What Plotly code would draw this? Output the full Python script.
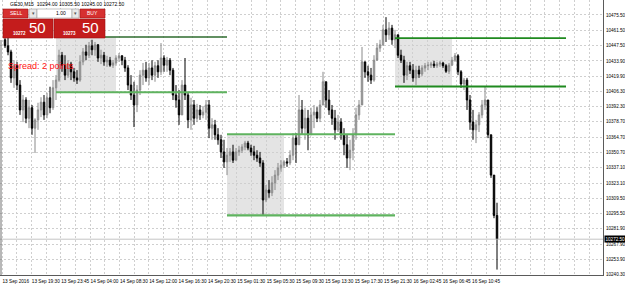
import plotly.graph_objects as go

# ---------------- data (prices) ----------------
first_open = 10453.0
highs = [10454.5,10456.5,10444,10434.5,10433,10416.5,10403,10401,10398.5,10394,
         10382,10396,10401,10403,10405,10410.5,10416.5,10421,10444,10442,
         10439,10434.5,10433,10427.5,10425.5,10439,10445.5,10448.5,10451,10453,
         10451,10449,10444,10442,10438.5,10437.5,10434.5,10439,10441,10439,
         10437.5,10430,10421,10415,10412,10425.5,10432,10433,10432,10434.5,
         10433,10434.5,10450,10439,10437.5,10436.5,10427.5,10412,10407.5,10416.5,
         10436.5,10405.5,10400.5,10398.5,10395,10394,10393,10398.5,10398.5,10382,
         10380.5,10373,10367,10362.5,10355,10355,10358,10355,10357,10358.5,
         10361.5,10361.5,10358,10357,10353,10351.5,10344,10321.5,10326,10329.5,
         10335,10341.5,10344,10344,10346,10353,10368.5,10368.5,10403,10398.5,
         10391.5,10389.5,10391.5,10394,10392,10398.5,10424,10415,10407.5,10394,
         10389.5,10385,10382,10373,10367,10362.5,10373,10391.5,10398.5,10446.5,
         10433,10429.5,10427.5,10439,10450,10453,10466.5,10473.5,10469,10466.5,
         10462,10457.5,10444,10438.5,10433,10433,10431,10429.5,10429.5,10430,
         10432,10433,10433,10434,10433,10434,10433,10431,10432,10437.5,
         10441,10440,10425.5,10418.5,10418.5,10403,10389.5,10380.5,10387.5,10398.5,
         10410.5,10398.5,10367,10330.5,10305.5]
lows = [10445.5,10439,10414,10409.5,10407.5,10385,10378.5,10377.5,10373,10367,
        10350.5,10371.5,10383,10380.5,10382,10386.5,10389.5,10398.5,10415,10424,
        10416.5,10418.5,10416.5,10415,10413,10415,10430,10434.5,10436.5,10439,
        10438.5,10433,10431,10429.5,10428.5,10428.5,10427.5,10429.5,10433,10430,
        10424,10407.5,10398.5,10374,10387.5,10403,10412,10415,10412,10416.5,
        10415,10418.5,10421,10424,10424,10421,10398.5,10391.5,10376,10389.5,
        10398.5,10373,10371.5,10376,10378.5,10380.5,10382,10380.5,10364,10362.5,
        10362.5,10358,10346,10337,10330.5,10342.5,10341.5,10346,10348,10350.5,
        10353,10353,10348,10344,10342.5,10338,10294.5,10306,10310,10311.5,
        10317,10326,10333.5,10337,10338,10339.5,10344,10341.5,10358,10367,
        10362.5,10353,10367,10373,10378.5,10378.5,10394,10391.5,10385,10376,
        10362.5,10369.5,10362.5,10348.5,10337,10335,10344,10362.5,10380.5,10398.5,
        10418.5,10415,10413,10415,10436.5,10442,10447.5,10451,10453,10448.5,
        10445.5,10436.5,10432,10414,10416.5,10422,10415,10412,10418.5,10420,
        10424,10425.5,10427.5,10427.5,10427.5,10428.5,10427.5,10423,10422,10429.5,
        10433,10421,10409.5,10407.5,10389.5,10371.5,10362.5,10359.5,10369.5,10382,
        10389.5,10364,10328,10291.5,10245]
closes = [10447.5,10442,10418.5,10429.5,10412,10389.5,10398.5,10382,10391.5,10373,
          10380.5,10389.5,10396.5,10385,10400.5,10391.5,10409.5,10416.5,10439,10430,
          10421,10431,10424,10418.5,10416.5,10433,10442,10439,10447.5,10444,
          10448.5,10436.5,10439,10433,10434.5,10430,10432,10436.5,10438.5,10434.5,
          10427.5,10412,10403,10394,10407.5,10421,10425.5,10418.5,10427.5,10421,
          10429.5,10424,10436.5,10430,10434.5,10425.5,10403,10398.5,10385,10412,
          10403,10380.5,10394,10382,10389.5,10385,10387.5,10394,10373,10376,
          10367,10362.5,10351.5,10342.5,10348.5,10351.5,10344,10351.5,10353,10356,
          10359.5,10355,10351.5,10348.5,10346,10341.5,10308,10317,10314.5,10323.5,
          10330.5,10337,10339.5,10342.5,10341.5,10348.5,10364,10358,10389.5,10373,
          10382,10367,10385,10387.5,10382,10394,10415,10398.5,10389.5,10382,
          10371.5,10378.5,10367,10358,10346,10353,10367,10385,10394,10433,
          10424,10421,10416.5,10434.5,10445.5,10448.5,10462,10457.5,10463.5,10453,
          10457.5,10439,10434.5,10421,10429.5,10425.5,10418.5,10425.5,10422,10427.5,
          10429.5,10430,10431,10429.5,10431,10432,10429.5,10424.5,10430,10434.5,
          10438.5,10424,10413,10416.5,10398.5,10378.5,10371.5,10376,10385,10394,
          10398.5,10367,10330.5,10294,10272.5]
opens = [first_open] + closes[:-1]

x_labels = ["13 Sep 2016", "13 Sep 19:30", "13 Sep 23:45", "14 Sep 04:00", "14 Sep 08:30",
            "14 Sep 12:00", "14 Sep 16:30", "14 Sep 20:30", "15 Sep 01:30", "15 Sep 05:30",
            "15 Sep 09:30", "15 Sep 13:30", "15 Sep 17:30", "15 Sep 21:30", "16 Sep 02:45",
            "16 Sep 06:45", "16 Sep 10:45"]
y_ticks = [10475.5, 10461.5, 10447.5, 10433.9, 10419.9, 10406.3, 10392.3, 10378.7, 10364.7,
           10350.7, 10337.1, 10323.1, 10309.5, 10295.5, 10281.9, 10267.9, 10253.9, 10240.3]

# zones: start bar, box end bar, line end bar, top price, bottom price
zone_start = [17, 74, 130]
zone_box_end = [37, 93, 149]
zone_line_end = [74, 130, 187]
zone_top = [10455.5, 10367.5, 10454.5]
zone_bottom = [10405.5, 10294.0, 10410.7]

symbol_title = "GE30,M15  10294.00 10305.50 10245.00 10272.50"
bid_big, bid_small = "50", "10272"
ask_big, ask_small = "50", "10273"
spread_text = "Spread: 2 points"
last_price = 10272.5

# ---------------- figure ----------------
W, H = 625, 286
ML, MR, MT, MB = 0, 22, 0, 11
PW, PH = W - ML - MR, H - MT - MB

n = len(closes)
xs = list(range(n))
BAR_PX = 3.0
X0_PX = 5.0
def bar_of_px(p):
    return (p - X0_PX) / BAR_PX

fig = go.Figure()
fig.add_trace(go.Candlestick(
    x=xs, open=opens, high=highs, low=lows, close=closes,
    increasing=dict(line=dict(color="#8a8a8a", width=1), fillcolor="#b5b5b5"),
    decreasing=dict(line=dict(color="#000000", width=1), fillcolor="#000000"),
    whiskerwidth=0, showlegend=False, hoverinfo="skip"))

# x grid every half label step; labels on every other line
label_step_px = 29.35
grid_vals, grid_text = [], []
j = 0
while 2 + j * label_step_px / 2 <= PW:
    grid_vals.append(bar_of_px(2 + j * label_step_px / 2))
    k = j // 2
    grid_text.append(x_labels[k] if (j % 2 == 0 and k < len(x_labels)) else "")
    j += 1

y_lo = 10240.1
y_hi = 10489.0

shapes = []
line_cols = [("#2e6b2e", 1.3, "#5fb35f", 2.2), ("#5fb35f", 2.2, "#5fb35f", 2.2), ("#1f8a1f", 1.8, "#1f8a1f", 1.8)]
for i in range(len(zone_start)):
    shapes.append(dict(type="rect", xref="x", yref="y", x0=zone_start[i], x1=zone_box_end[i],
                       y0=zone_bottom[i], y1=zone_top[i], fillcolor="#e4e4e4",
                       line=dict(width=0), layer="below"))
    ct, wt, cb, wb = line_cols[i]
    shapes.append(dict(type="line", xref="x", yref="y", x0=zone_start[i], x1=zone_line_end[i],
                       y0=zone_top[i], y1=zone_top[i], line=dict(color=ct, width=wt), layer="above"))
    shapes.append(dict(type="line", xref="x", yref="y", x0=zone_start[i], x1=zone_line_end[i],
                       y0=zone_bottom[i], y1=zone_bottom[i], line=dict(color=cb, width=wb), layer="above"))
# current price line
shapes.append(dict(type="line", xref="paper", yref="y", x0=0, x1=1, y0=last_price, y1=last_price,
                   line=dict(color="#c4c4c4", width=1), layer="above"))

def px(x):
    return x / PW
def py(y):
    return 1 - y / PH

# left border line
shapes.append(dict(type="line", xref="paper", yref="paper", x0=px(1), x1=px(1), y0=0, y1=py(40),
                   line=dict(color="#707070", width=1)))

# one-click trading panel
def rect(x0, y0, x1, y1, fill, line="#a01010", lw=0.6):
    shapes.append(dict(type="rect", xref="paper", yref="paper", x0=px(x0), x1=px(x1),
                       y0=py(y1), y1=py(y0), fillcolor=fill, line=dict(color=line, width=lw),
                       layer="above"))
rect(3, 9, 28, 18, "#d63030")
rect(29, 9, 37, 18, "#e8e8e8", "#9a9a9a")
rect(37, 9, 72, 18, "#ffffff", "#9a9a9a")
rect(72, 9, 79, 18, "#e8e8e8", "#9a9a9a")
rect(80, 9, 105, 18, "#d63030")
rect(3, 19, 53, 38, "#c41c1c")
rect(54, 19, 105, 38, "#c41c1c")

annotations = []
def txt(x, y, s, size, color="#000000", anchor="left", bold=False, family="Liberation Sans"):
    annotations.append(dict(xref="paper", yref="paper", x=px(x), y=py(y), text=("<b>%s</b>" % s) if bold else s,
                            showarrow=False, xanchor=anchor, yanchor="middle",
                            font=dict(size=size, color=color, family=family)))
txt(8, 4, symbol_title, 5)
txt(15.5, 13.5, "SELL", 5, "#ffffff", "center")
txt(92.5, 13.5, "BUY", 5, "#ffffff", "center")
txt(33, 13.5, "▾", 5, "#555555", "center")
txt(75.5, 13.5, "▾", 5, "#555555", "center")
txt(61, 13.5, "1.00", 5, "#000000", "center")
txt(11, 33, bid_small, 4.5, "#ffffff", "left", True)
txt(27, 28, bid_big, 15, "#ffffff", "left")
txt(61, 33, ask_small, 4.5, "#ffffff", "left", True)
txt(80, 28, ask_big, 15, "#ffffff", "left")
txt(6, 66, spread_text, 9, "#ff1010", "left")

# current price tag on the axis
annotations.append(dict(xref="paper", yref="y", x=1.0, y=last_price, text="%.2f" % last_price,
                        showarrow=False, xanchor="left", yanchor="middle", xshift=1,
                        bgcolor="#000000", borderpad=0.5,
                        font=dict(size=4.6, color="#ffffff", family="Liberation Sans")))

fig.update_layout(
    width=W, height=H,
    margin=dict(l=ML, r=MR, t=MT, b=MB),
    paper_bgcolor="#ffffff", plot_bgcolor="#ffffff",
    shapes=shapes, annotations=annotations,
    xaxis=dict(range=[bar_of_px(0), bar_of_px(PW)], tickvals=grid_vals, ticktext=grid_text,
               ticklabelposition="outside right", ticks="", showgrid=True,
               gridcolor="#cfcfcf", griddash="2px,2px", gridwidth=1,
               showline=True, linecolor="#5a5a5a", linewidth=1, zeroline=False,
               rangeslider=dict(visible=False), fixedrange=True, ticklabelstandoff=1,
               tickfont=dict(size=4.7, family="Liberation Sans", color="#000000"), tickangle=0),
    yaxis=dict(range=[y_lo, y_hi], side="right", tickvals=y_ticks,
               ticktext=["%.2f" % v for v in y_ticks], showgrid=True,
               gridcolor="#cfcfcf", griddash="2px,2px", gridwidth=1,
               showline=True, linecolor="#5a5a5a", linewidth=1, zeroline=False,
               ticks="", fixedrange=True, ticklabelstandoff=1,
               tickfont=dict(size=4.6, family="Liberation Sans", color="#000000")),
)

fig.write_html("out.html")
